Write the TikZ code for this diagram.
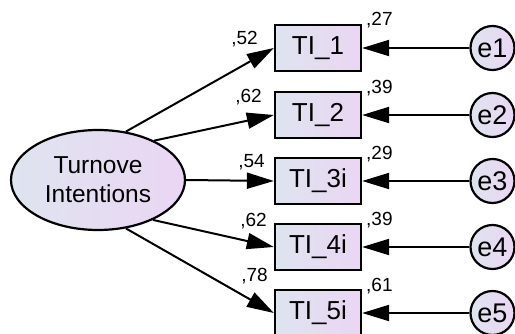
\documentclass[tikz,border=0pt]{standalone}
\usepackage{fontspec}
\setmainfont{Liberation Sans}
\usetikzlibrary{arrows.meta,shapes.geometric}
\definecolor{shadeL}{RGB}{222,228,240}
\definecolor{shadeR}{RGB}{235,214,243}
\begin{document}
\begin{tikzpicture}[x=1pt,y=-1pt,
  obs/.style={draw,line width=2.3pt,rectangle,minimum width=86pt,minimum height=46pt,
    inner sep=0pt,left color=shadeL,right color=shadeR,font=\fontsize{26}{30}\selectfont},
  lat/.style={draw,line width=2.2pt,ellipse,minimum width=174pt,minimum height=100pt,
    inner sep=0pt,left color=shadeL,right color=shadeR,align=center,
    font=\fontsize{24.5}{29}\selectfont},
  err/.style={draw,line width=2.2pt,circle,minimum size=44pt,inner sep=0pt,
    left color=shadeL,right color=shadeR,font=\fontsize{27}{30}\selectfont},
  reg/.style={line width=2pt,-{Triangle[length=27pt,width=16pt]}},
  est/.style={font=\fontsize{19}{21}\selectfont,inner sep=0pt}
]
\useasboundingbox (0,0) rectangle (515,334);

% latent factor
\node[lat] (ti) at (98,180) {Turnove\\Intentions};

% indicators and their error terms
\node[obs] (b1) at (318,48)  {TI\_1};
\node[obs] (b2) at (318,115) {TI\_2};
\node[obs] (b3) at (318,181) {TI\_3i};
\node[obs] (b4) at (318,247) {TI\_4i};
\node[obs] (b5) at (318,313) {TI\_5i};

\node[err] (e1) at (492.5,48)  {e1};
\node[err] (e2) at (492.5,115) {e2};
\node[err] (e3) at (492.5,181) {e3};
\node[err] (e4) at (492.5,247) {e4};
\node[err] (e5) at (492.5,313) {e5};

% factor loadings
\draw[reg] (ti.60)  -- (b1.west);
\draw[reg] (ti.35)  -- (b2.west);
\draw[reg] (ti.0)   -- (b3.west);
\draw[reg] (ti.-36) -- (b4.west);
\draw[reg] (ti.-60) -- (b5.west);

% error paths
\foreach \i in {1,...,5}
  \draw[reg] (e\i.west) -- (b\i.east);

% standardized estimates
\node[est,anchor=base east] (l1) at (258,45)  {,52};
\node[est,anchor=base east] (l2) at (262,103) {,62};
\node[est,anchor=base east] (l3) at (265,168) {,54};
\node[est,anchor=base east] (l4) at (267,227) {,62};
\node[est,anchor=base east] (l5) at (268,282) {,78};

% squared multiple correlations
\node[est,anchor=base west] (r1) at (366,26)  {,27};
\node[est,anchor=base west] (r2) at (366,94)  {,39};
\node[est,anchor=base west] (r3) at (366,160) {,29};
\node[est,anchor=base west] (r4) at (366,226) {,39};
\node[est,anchor=base west] (r5) at (366,292) {,61};
\end{tikzpicture}
\end{document}
